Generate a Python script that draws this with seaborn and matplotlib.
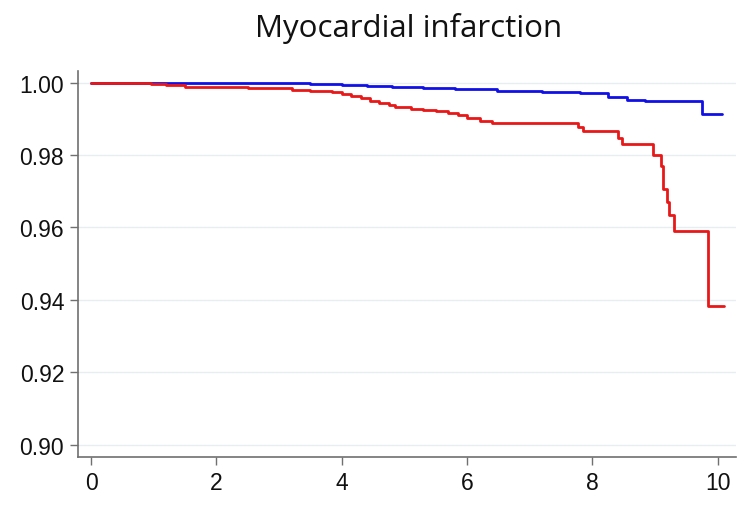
import matplotlib
matplotlib.use("Agg")
import matplotlib.pyplot as plt
import seaborn as sns
import pandas as pd

# Data (step survival curves)
blue_t = [0.0, 2.9, 3.5, 4.0, 4.4, 4.8, 5.3, 5.8, 6.47, 7.2, 7.8, 8.25, 8.55, 8.84, 9.74, 10.07]
blue_s = [1.0, 0.9998, 0.9996, 0.9994, 0.9991, 0.9988, 0.9985, 0.9982, 0.9977, 0.9975, 0.9972,
          0.9960, 0.9953, 0.9948, 0.9914, 0.9914]

red_t = [0.0, 0.5, 0.95, 1.2, 1.5, 2.0, 2.5, 3.0, 3.2, 3.5, 3.85, 4.0, 4.15, 4.3, 4.45,
         4.6, 4.75, 4.85, 5.1, 5.3, 5.5, 5.7, 5.85, 6.0, 6.2, 6.4, 7.77, 7.85, 8.40, 8.47,
         8.96, 9.09, 9.12, 9.19, 9.22, 9.30, 9.84, 10.10]
red_s = [1.0, 0.9999, 0.9996, 0.9993, 0.9989, 0.9987, 0.9986, 0.9984, 0.9980, 0.9977,
         0.9973, 0.9968, 0.9963, 0.9957, 0.9950, 0.9944, 0.9937, 0.9932, 0.9928, 0.9925, 0.9921,
         0.9916, 0.9910, 0.9902, 0.9895, 0.9888, 0.9877, 0.9866, 0.9846, 0.9830, 0.9801, 0.9771,
         0.9706, 0.9671, 0.9635, 0.9591, 0.9382, 0.9382]

x_ticks = [0, 2, 4, 6, 8, 10]
y_ticks = [0.90, 0.92, 0.94, 0.96, 0.98, 1.00]
title = "Myocardial infarction"

sns.set_theme(style="white")
plt.rcParams['font.family'] = ['Liberation Sans', 'DejaVu Sans']

fig = plt.figure(figsize=(7.41, 5.06), dpi=100)
ax = fig.add_axes([0.1053, 0.0949, 0.8880, 0.7628])

df_b = pd.DataFrame({"t": blue_t, "s": blue_s})
df_r = pd.DataFrame({"t": red_t, "s": red_s})

sns.lineplot(data=df_b, x="t", y="s", ax=ax, color="#1010e6", linewidth=2.0,
             drawstyle="steps-post", estimator=None, zorder=3)
sns.lineplot(data=df_r, x="t", y="s", ax=ax, color="#e81818", linewidth=2.0,
             drawstyle="steps-post", estimator=None, zorder=4)

ax.set_xlim(-0.207, 10.29)
ax.set_ylim(0.8966, 1.0032)
ax.set_xticks(x_ticks)
ax.set_xticklabels([str(v) for v in x_ticks])
ax.set_yticks(y_ticks)
ax.set_yticklabels([f"{v:.2f}" for v in y_ticks])
ax.set_xlabel("")
ax.set_ylabel("")

ax.yaxis.grid(True, color="#e6eef0", linewidth=1.0)
ax.xaxis.grid(False)
ax.set_axisbelow(True)

for side in ["top", "right"]:
    ax.spines[side].set_visible(False)
for side in ["left", "bottom"]:
    ax.spines[side].set_color("#707070")
    ax.spines[side].set_linewidth(1.2)

ax.tick_params(axis="both", which="major", direction="out", length=6, width=1.0,
               color="#707070", labelsize=16.5, labelcolor="#111111", pad=4,
               left=True, bottom=True)

fig.text(0.5513, 0.9269, title, ha="center", va="baseline", fontsize=22.5,
         family=['Open Sans', 'DejaVu Sans'], color="#111111")

fig.savefig("out.png", dpi=100)
